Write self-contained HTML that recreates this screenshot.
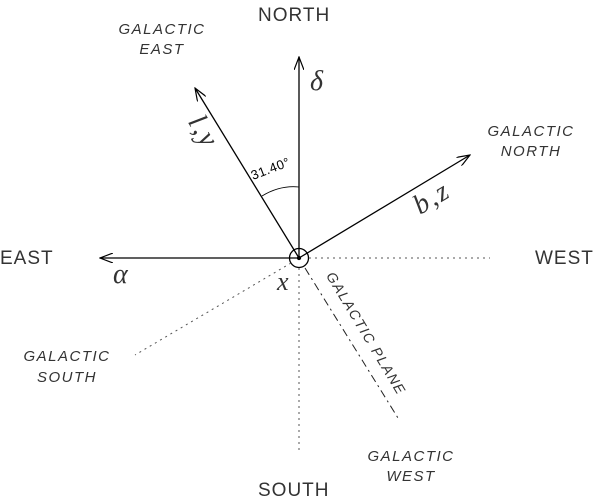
<!DOCTYPE html>
<html><head><style>body{margin:0;background:#fff}</style></head><body>
<svg width="600" height="499" viewBox="0 0 600 499" xmlns="http://www.w3.org/2000/svg" font-family="Liberation Sans, sans-serif">
<defs><marker id="a" markerWidth="14" markerHeight="10" refX="13" refY="5" orient="auto" markerUnits="userSpaceOnUse"><path d="M0,0 L13,5 L0,10" fill="none" stroke="#000" stroke-width="1.2"/></marker></defs>
<g stroke="#000" stroke-width="1.3" fill="none">
<line x1="299" y1="258" x2="299" y2="57" marker-end="url(#a)"/>
<line x1="299" y1="258" x2="195" y2="88" marker-end="url(#a)"/>
<line x1="299" y1="258" x2="470" y2="155" marker-end="url(#a)"/>
<line x1="299" y1="258" x2="100" y2="258" marker-end="url(#a)"/>
<circle cx="299" cy="258" r="9.5"/>
<circle cx="299" cy="258" r="1.5" fill="#000"/>
<path d="M262,196 Q280,185 299,187" stroke-width="0.8"/>
</g>
<g stroke="#555" stroke-width="1" fill="none" stroke-dasharray="2,4">
<line x1="309" y1="258" x2="490" y2="258"/>
<line x1="299" y1="268" x2="299" y2="450"/>
<line x1="291" y1="263" x2="135" y2="355"/>
</g>
<line x1="305" y1="268" x2="398" y2="418" stroke="#222" stroke-width="1" stroke-dasharray="8,4,2,4"/>
<g font-size="19" fill="#333" font-weight="300">
<text x="258" y="21" letter-spacing="1">NORTH</text>
<text x="258" y="496" letter-spacing="1">SOUTH</text>
<text x="0" y="264" letter-spacing="1">EAST</text>
<text x="535" y="264" letter-spacing="1">WEST</text>
</g>
<g font-style="italic" font-size="15" fill="#333" text-anchor="middle" letter-spacing="1.5">
<text x="162" y="34">GALACTIC</text><text x="162" y="54">EAST</text>
<text x="531" y="136">GALACTIC</text><text x="531" y="156">NORTH</text>
<text x="67" y="361">GALACTIC</text><text x="67" y="382">SOUTH</text>
<text x="411" y="461">GALACTIC</text><text x="411" y="481">WEST</text>
<text transform="translate(362,336) rotate(59)" font-size="14">GALACTIC PLANE</text>
</g>
<g font-family="Liberation Serif, serif" font-style="italic" font-size="28" fill="#333">
<text x="310" y="90">δ</text>
<text x="113" y="283">α</text>
<text x="277" y="290" font-size="26">x</text>
<text transform="translate(420,215) rotate(-31)" letter-spacing="2">b,z</text>
<text transform="translate(196,136) rotate(59)" text-anchor="middle" letter-spacing="2">l,y</text>
</g>
<text transform="translate(253,180) rotate(-21)" font-size="13" fill="#000" letter-spacing="0.5">31.40°</text>
</svg>
</body></html>
